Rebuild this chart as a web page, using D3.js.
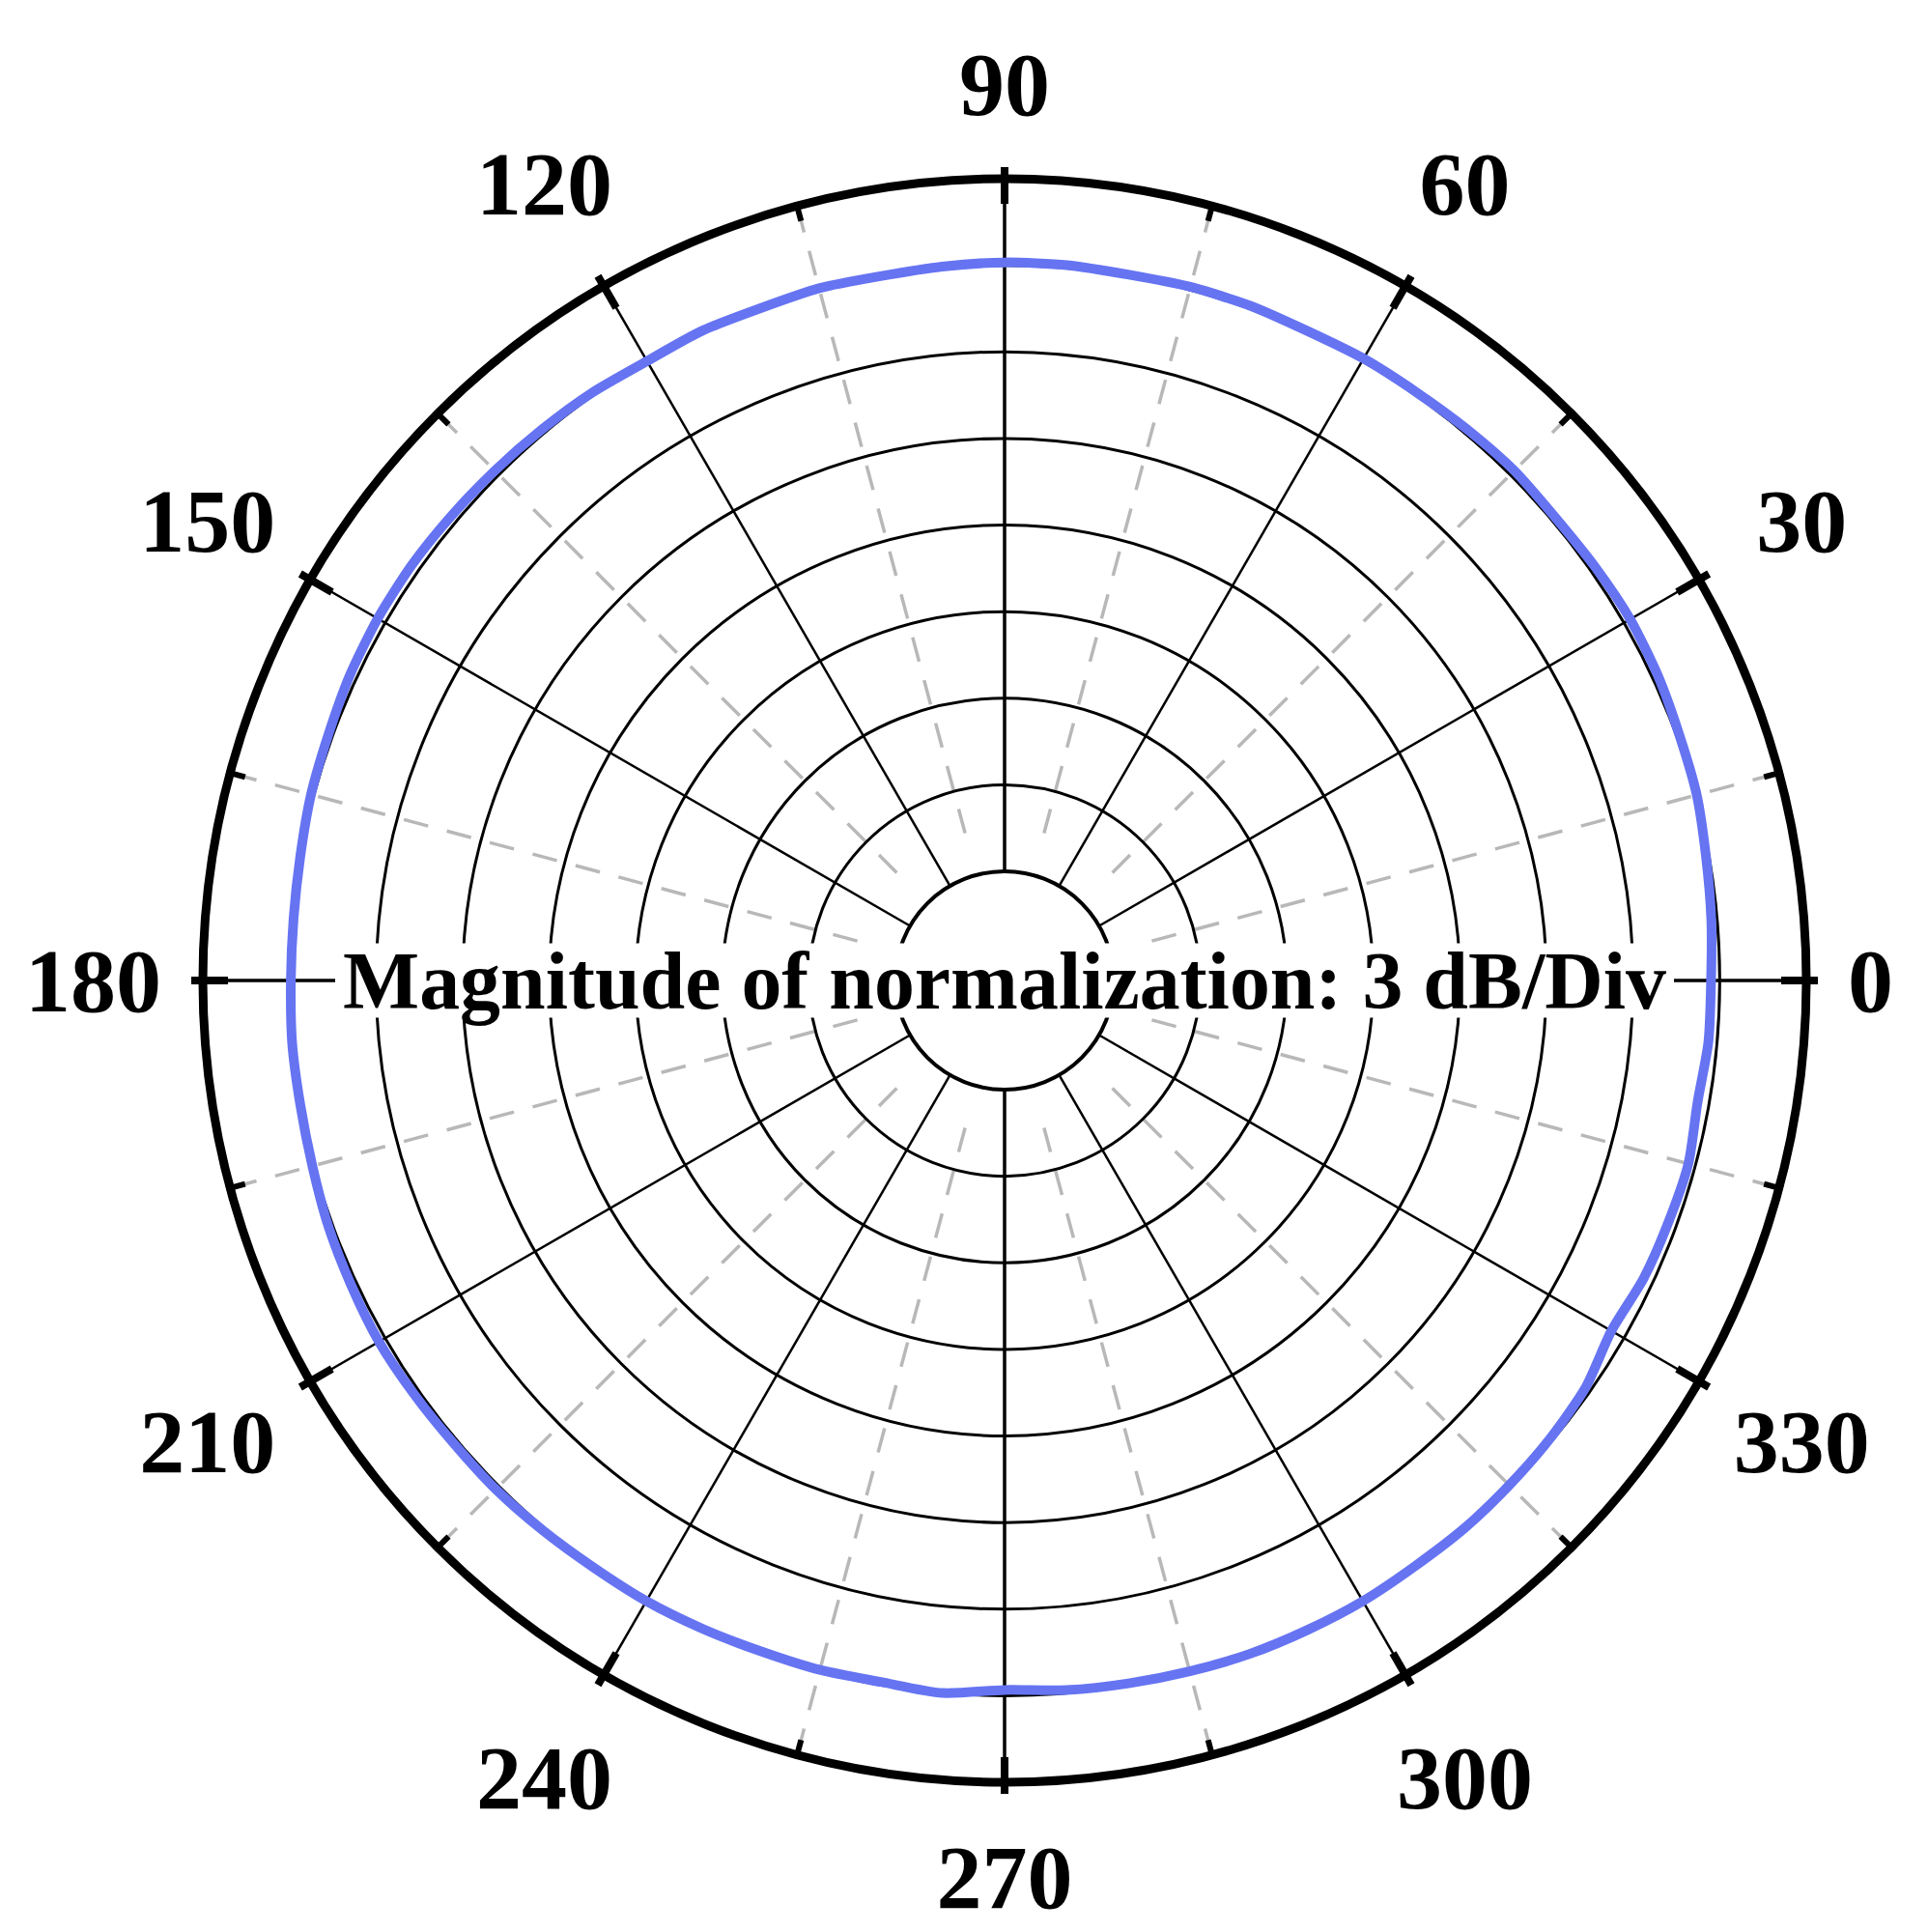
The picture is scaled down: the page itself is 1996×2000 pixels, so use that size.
<!DOCTYPE html>
<html><head><meta charset="utf-8">
<script src="https://cdn.jsdelivr.net/npm/d3@7"></script>
<style>body{margin:0;background:#fff}</style></head>
<body><svg id="c" width="1996" height="2000"></svg>
<script>
const angleLabels = [0,30,60,90,120,150,180,210,240,270,300,330];
const ringValues = [-24,-21,-18,-15,-12,-9,-6,-3,0];
const dataAngles = [0,5,10,15,20,25,30,35,40,45,50,55,60,65,70,75,80,85,90,95,100,105,110,115,120,125,130,135,140,145,150,155,160,165,170,175,180,185,190,195,200,205,210,215,220,225,230,235,240,245,250,255,260,265,270,275,280,285,290,295,300,305,310,315,320,325,330,335,340,345,350,355];
const dataDb = [-3.3,-3.2,-3.1,-2.95,-2.9,-2.8,-2.75,-2.8,-2.85,-2.8,-2.85,-2.9,-2.9,-2.95,-2.9,-2.9,-2.95,-2.9,-2.9,-2.95,-3.0,-2.95,-3.0,-2.95,-3.0,-2.9,-2.85,-2.8,-2.75,-2.7,-2.7,-2.75,-2.85,-2.9,-3.0,-3.05,-3.05,-3.0,-3.0,-2.95,-2.85,-2.8,-2.75,-2.8,-2.85,-2.85,-2.9,-2.95,-2.95,-3.0,-3.05,-3.05,-3.1,-3.0,-3.2,-3.1,-3.05,-3.0,-2.95,-2.95,-2.95,-3.0,-3.0,-3.05,-3.1,-3.2,-3.5,-3.35,-3.3,-3.25,-3.4,-3.3];
const centerText = "Magnitude of normalization: 3 dB/Div";

const svg = d3.select('#c');
const cx = 1040, cy = 1015;
const r = d3.scaleLinear().domain([-24,0]).range([113,830]);
const rOuter = 830;
const g = svg.append('g').attr('transform',`translate(${cx},${cy})`);
const rad = a => a*Math.PI/180;
const px = (a,rr)=> rr*Math.cos(rad(a)), py=(a,rr)=> -rr*Math.sin(rad(a));

d3.range(15,360,30).forEach(a=>{
  g.append('line').attr('x1',px(a,r(-22.5))).attr('y1',py(a,r(-22.5))).attr('x2',px(a,rOuter)).attr('y2',py(a,rOuter))
   .attr('stroke','#b8b8b8').attr('stroke-width',3.5).attr('stroke-dasharray','26,20');
});
ringValues.slice(0,-1).forEach(v=>{
  g.append('circle').attr('r',r(v)).attr('fill','none').attr('stroke','#000').attr('stroke-width',v===-24?4:3);
});
angleLabels.forEach(a=>{
  g.append('line').attr('x1',px(a,r(-24))).attr('y1',py(a,r(-24))).attr('x2',px(a,rOuter)).attr('y2',py(a,rOuter))
   .attr('stroke','#000').attr('stroke-width',a%90===0?3.5:2.5);
});
g.append('circle').attr('r',rOuter).attr('fill','none').attr('stroke','#000').attr('stroke-width',9);
d3.range(0,360,15).forEach(a=>{
  const maj = a%30===0;
  const r1 = rOuter-(maj?26:16), r2 = rOuter+(maj?12:4);
  g.append('line').attr('x1',px(a,r1)).attr('y1',py(a,r1)).attr('x2',px(a,r2)).attr('y2',py(a,r2))
   .attr('stroke','#000').attr('stroke-width',maj?8:6);
});
const pts = dataAngles.map((a,i)=>[rad(90-a), r(dataDb[i])]);
g.append('path').datum(pts)
 .attr('d', d3.lineRadial().angle(d=>d[0]).radius(d=>d[1]).curve(d3.curveCardinalClosed.tension(0.3)))
 .attr('fill','none').attr('stroke','#6674f2').attr('stroke-width',10);

const t = g.append('text').attr('x',0).attr('y',0).attr('text-anchor','middle').attr('dominant-baseline','central')
 .attr('font-family','Liberation Serif, Times New Roman, serif').attr('font-weight','bold').attr('font-size',84)
 .attr('textLength',1370).attr('lengthAdjust','spacingAndGlyphs').text(centerText);
const bb = t.node().getBBox();
g.insert('rect','text').attr('x',bb.x-8).attr('y',bb.y+8).attr('width',bb.width+16).attr('height',bb.height-16).attr('fill','#fff');

angleLabels.forEach(a=>{
  const lt = g.append('text').attr('dominant-baseline','central')
    .attr('font-family','Liberation Serif, Times New Roman, serif').attr('font-weight','bold').attr('font-size',94).text(a);
  if (a===0) lt.attr('text-anchor','start').attr('x',873).attr('y',0);
  else if (a===180) lt.attr('text-anchor','end').attr('x',-873).attr('y',0);
  else {
    const R = (a%90===0) ? 928 : 953;
    lt.attr('text-anchor','middle').attr('x',px(a,R)).attr('y',py(a,R));
  }
});
</script></body></html>
